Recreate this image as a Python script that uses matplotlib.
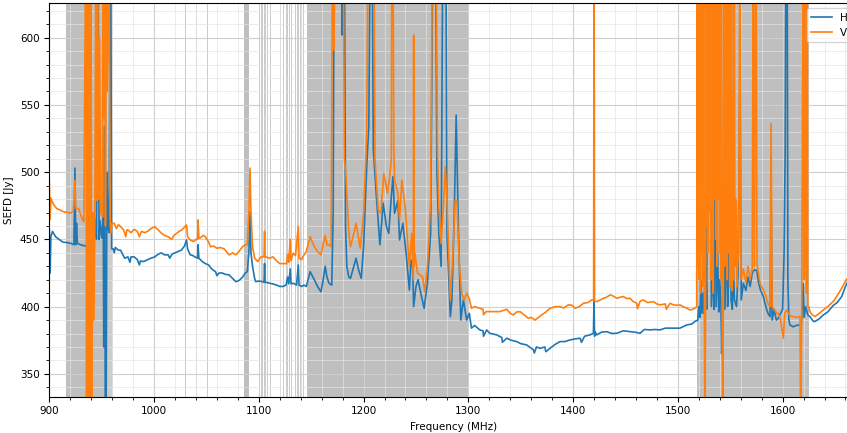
import matplotlib
matplotlib.use("Agg")
import matplotlib.pyplot as plt
from matplotlib.ticker import MultipleLocator

# H polarisation (freq MHz, SEFD Jy); 700 / 300 = off-scale spikes
h_freq = [900, 900.8, 901.5, 903, 906, 910, 913, 917, 921, 923.5, 924.5, 925.2, 926, 926.8, 930,
          934.5, 935.5, 940, 941.5, 942.5, 944, 945, 946.5, 947.5, 948.5, 950, 951.5, 952, 952.8,
          953.5, 954.2, 955, 956, 957, 958.5, 959.5, 961, 962, 963, 966, 968, 970, 972, 975, 977,
          978, 981, 984, 986, 987, 990, 994, 997, 1000.6, 1004, 1007, 1010, 1013.5, 1015, 1017,
          1020, 1023, 1026, 1029, 1031, 1032, 1034.5, 1037, 1039, 1041.5, 1042, 1042.8, 1046,
          1049, 1052, 1055, 1058.7, 1060, 1062, 1065, 1068, 1071.6, 1075, 1078, 1080, 1082,
          1084.5, 1087, 1089, 1090.5, 1091.6, 1092.5, 1094, 1096, 1097, 1100, 1104, 1105, 1105.5,
          1106, 1108, 1110, 1113, 1117, 1120, 1123, 1126, 1127.5, 1128.5, 1130, 1130.7, 1133,
          1136, 1137.7, 1138.4, 1141, 1143, 1145.3, 1149, 1153, 1156, 1159.3, 1161, 1163.4, 1165,
          1167, 1169.6, 1171, 1172, 1178.5, 1179.5, 1180.5, 1181.5, 1182.8, 1184, 1185.9, 1187.5,
          1190, 1192.8, 1195, 1197.8, 1200, 1203, 1205, 1206.5, 1208, 1209.3, 1212.5, 1215.6,
          1218.7, 1221.8, 1224, 1226.5, 1228, 1229.6, 1232.8, 1234.3, 1237.5, 1240.6, 1243.7,
          1245.3, 1246.8, 1247.8, 1250, 1252, 1254.6, 1257.8, 1260.9, 1264, 1266.5, 1268.5, 1270,
          1271.8, 1274, 1275.8, 1278.5, 1279.6, 1282.8, 1284.3, 1286.5, 1288.4, 1290.6, 1292.8,
          1295.3, 1298.4, 1300.9, 1303, 1306, 1310.9, 1314, 1314.5, 1317.6, 1320.3, 1327, 1332,
          1332.5, 1336.7, 1341, 1346.2, 1350, 1355.7, 1362, 1363, 1365, 1368.5, 1373, 1374,
          1378, 1383, 1387.6, 1392, 1397, 1402, 1406.7, 1408, 1411, 1416.2, 1419.4, 1420, 1420.5,
          1421.2, 1422.6, 1427, 1432, 1437, 1441.7, 1448, 1454.4, 1459, 1464, 1468, 1473.5,
          1478, 1483, 1488, 1492.6, 1495.7, 1502, 1508.5, 1513, 1516.4, 1519, 1520, 1521, 1522,
          1523, 1524, 1525, 1526.5, 1527.5, 1529, 1530, 1531, 1532, 1533.5, 1534.5, 1535.5,
          1536.5, 1538, 1539, 1540, 1541, 1541.8, 1542.5, 1544, 1545, 1546.5, 1547.5, 1548.5,
          1549.8, 1550.8, 1552, 1553, 1554, 1556, 1557.5, 1559.4, 1560.5, 1562.5, 1565, 1567,
          1569, 1571, 1573, 1575.3, 1577, 1579, 1581.6, 1584, 1586, 1588, 1589, 1590, 1592, 1594,
          1596, 1598, 1600, 1601.4, 1602.5, 1603.3, 1604.3, 1605, 1606, 1607, 1610, 1613, 1616.6,
          1618, 1619.8, 1620.5, 1622, 1624, 1626, 1629.4, 1631, 1635, 1639, 1643, 1648.5, 1652,
          1656.4, 1660, 1663, 1670]
h_sefd = [457, 425, 452, 456, 452, 449.6, 448, 447.6, 447, 446, 503, 446, 462, 447, 446,
          445, 446, 446, 465, 452, 465, 450, 700, 450, 464, 451, 466, 370, 534,
          300, 300, 500, 460, 455, 700, 443, 443, 440, 444, 442, 442, 439, 436, 437, 433,
          437, 437, 435, 431, 434, 433.5, 435, 436, 437, 439, 440, 438.5, 438.5, 436, 439,
          440, 441, 442, 445, 449.6, 443, 438.5, 438, 437, 436, 446, 436, 433.5,
          432, 431, 428, 426, 423, 425, 425, 424, 423.6, 421, 418.6, 419, 420,
          422, 425, 426, 440, 470.6, 440, 430, 421, 418.6, 419, 418.6, 418, 432,
          418, 418, 417.4, 417, 416, 415, 415, 416, 422, 417, 428, 417, 417.4,
          416, 431, 416, 415, 416, 415, 426, 420, 415, 411, 418, 430, 422,
          417.4, 416, 470, 700, 700, 602, 700, 700, 460, 430, 422, 421,
          428, 436, 428, 421, 444.6, 504, 534, 700, 700, 516.5, 479, 446,
          477, 459.5, 454.5, 482, 496.6, 469.4, 479, 449.6, 462, 439.7, 412.4,
          434.7, 429.8, 400, 414.9, 420, 410, 398.8, 417.4, 454.5, 700, 700, 500,
          454.5, 430, 700, 700, 454.5, 392.6, 405, 467, 542.5, 454.5, 390,
          405, 390, 395, 384, 386, 382.7, 382, 378, 382.7, 380.2, 379, 377,
          373.5, 376.5, 375, 374, 372.5, 371.5, 368, 365.5, 370, 369, 370, 366.5,
          369, 372, 374, 374, 375.2, 376, 376.5, 373.5, 378, 379, 380.2, 405, 378,
          381, 379, 381, 381.4, 380, 380.2, 382, 381.4, 381, 380.2, 383, 382.7,
          383, 382.7, 384, 384, 384, 384, 386.4, 387, 389, 390, 400, 392, 420,
          395, 410, 395, 445, 398, 700, 520, 700, 400, 430, 398, 529,
          400, 440, 396, 420, 405, 365, 400, 430, 398, 460, 400, 425,
          700, 405, 398, 430, 405, 400, 425, 583, 405, 417.4, 412, 422,
          415, 425, 427.3, 427, 418, 412, 407.5, 400, 395, 392.6, 484, 390, 398, 390,
          391.4, 395, 398, 440, 520, 700, 700, 420, 390, 386.4, 385, 386, 386.4,
          388, 417, 392, 400, 394, 392.6, 389, 389, 391, 393.9, 396, 401, 403,
          407.5, 415, 420, 432]

# V polarisation
v_freq = [900, 900.8, 901.5, 904, 907, 910, 913.5, 917, 920, 923, 924.5, 925.3, 928, 931, 933,
          935, 935.6, 936.2, 936.8, 937.4, 938, 938.6, 939.2, 939.8, 940.5, 941.5, 942.6, 943.5,
          944.5, 945.3, 946, 947, 948, 949, 950.6, 951.5, 952.2, 953, 953.6, 954.5, 955.3, 956,
          957, 958, 958.7, 960, 962, 964, 966, 968, 971, 973, 974, 975, 978, 981, 984, 986, 988,
          991, 994, 997, 1000.6, 1004, 1007, 1010, 1013.5, 1016.8, 1019, 1021.6, 1024, 1026.5,
          1029, 1031, 1032, 1034.5, 1037.7, 1040, 1041.5, 1042, 1042.8, 1044, 1047, 1049, 1052,
          1054, 1057, 1060, 1063, 1066.8, 1069, 1071.6, 1075, 1078, 1081, 1084.5, 1087, 1089,
          1090.5, 1091.6, 1092.5, 1094, 1096, 1099, 1102, 1105, 1105.5, 1106, 1107, 1110, 1113.5,
          1117, 1120, 1123.4, 1126.5, 1127.5, 1128.5, 1130, 1130.7, 1132.8, 1135, 1137.7, 1138.4,
          1141, 1142, 1145.3, 1149, 1153, 1156, 1159.3, 1161, 1163.4, 1165, 1167, 1169, 1170.5,
          1171.8, 1172.8, 1180.5, 1181.6, 1183, 1184.3, 1186, 1187.5, 1190, 1192.8, 1195, 1196.8,
          1200, 1203, 1204.5, 1209.8, 1210.9, 1214, 1216.5, 1219.3, 1222.8, 1225, 1226.5, 1227,
          1228, 1228.8, 1229.6, 1232.8, 1234.3, 1236.5, 1239.7, 1243.7, 1245.9, 1247.5, 1247.8,
          1248.3, 1249, 1251.5, 1256.2, 1258.4, 1260.9, 1264, 1266, 1269, 1270.5, 1271.8, 1274,
          1276.5, 1278, 1279.6, 1282.8, 1285.3, 1287.5, 1289, 1291.5, 1293.7, 1295.9, 1298.4,
          1300.9, 1303, 1306, 1310.9, 1314, 1314.5, 1317, 1320.7, 1325, 1330, 1336.7, 1340, 1343,
          1346, 1349.4, 1353, 1357.3, 1360, 1363.7, 1367, 1370, 1374, 1378, 1383, 1387.6, 1391,
          1395.5, 1399, 1402, 1406, 1409.8, 1414, 1417.8, 1419.6, 1420, 1420.5, 1422.6, 1426,
          1429, 1432, 1435.3, 1438, 1441.7, 1445, 1448, 1451, 1454.4, 1457, 1460.8, 1461.5, 1464,
          1467, 1471, 1476.7, 1480, 1483, 1488, 1489, 1492.6, 1495.7, 1500, 1502, 1505, 1508,
          1511.6, 1514, 1516.4, 1518, 1518.5, 1519.2, 1519.8, 1520.5, 1521, 1521.6, 1522.2,
          1522.8, 1523.4, 1524, 1524.6, 1525.2, 1525.9, 1526.6, 1527.2, 1527.8, 1528.4, 1529,
          1529.6, 1530.2, 1530.8, 1531.4, 1532, 1532.6, 1533.2, 1533.8, 1534.4, 1535, 1535.6,
          1536.2, 1536.8, 1537.4, 1538, 1538.6, 1539.2, 1539.8, 1540.4, 1541, 1541.6, 1542.2,
          1542.8, 1543.5, 1544.1, 1544.7, 1545.3, 1545.9, 1546.5, 1547.1, 1547.7, 1548.3,
          1548.9, 1549.5, 1550.1, 1550.7, 1551.3, 1551.9, 1552.5, 1553.1, 1553.8, 1554.5,
          1555.5, 1556.3, 1557, 1558, 1559.3, 1560.3, 1562.5, 1565, 1567, 1569, 1571, 1572,
          1573, 1574.5, 1575.5, 1578.5, 1581.6, 1584, 1586, 1588, 1589, 1590, 1592, 1594.4, 1596,
          1598, 1600.7, 1602, 1604, 1607, 1610, 1613, 1616.6, 1617.2, 1618.2, 1619.8, 1620.4,
          1621, 1621.6, 1622.2, 1622.8, 1623.4, 1624, 1625, 1626, 1628, 1631, 1635, 1639, 1643,
          1648.5, 1652, 1656.4, 1660, 1663, 1670]
v_sefd = [493, 465, 480.6, 476, 473, 472, 470.6, 470, 469.4, 471, 494, 473, 473, 466, 463,
          700, 300, 700, 300, 700, 300, 700, 300, 700, 300, 470, 390, 470,
          700, 479, 700, 480, 600, 470, 467, 700, 540, 700, 460, 700, 560, 596,
          700, 470, 454.6, 462, 462, 458, 461, 459.5, 457, 452, 457, 457, 455, 457.5, 456, 452, 456,
          455, 456, 458, 459.5, 457, 454.6, 453, 452, 450, 453, 454.6, 456, 457,
          459, 460.7, 452, 449.6, 448.4, 450, 450, 464.5, 451, 451, 453, 452, 448,
          444.6, 445, 443.4, 444, 443, 441, 438.5, 440, 438.5, 441, 444.6, 446, 446,
          470, 503, 470, 444.6, 436, 433.5, 437, 437, 456, 437, 437, 436, 437,
          434, 432, 432, 432, 439, 433, 450, 434, 439.7, 438, 459.5, 436,
          435, 437, 441, 452, 444.6, 441, 438.5, 445, 453, 446, 446, 444.6, 700,
          590.8, 700, 700, 510, 500, 479, 455, 444.6, 452, 462, 452, 443.4,
          469.4, 529, 700, 700, 509, 472, 469.4, 499, 484.3, 496.7, 509, 700,
          700, 520, 494, 484.3, 464.4, 494, 474.4, 429.8, 454.5, 420, 602,
          430, 439.7, 424.8, 422.3, 411, 429.8, 479, 700, 700, 520, 474.4, 447,
          479, 504, 479, 405, 439.7, 479, 479, 429.8, 410, 405, 410,
          406, 398.8, 400, 398.8, 398, 394, 396.3, 396.3, 396.3, 396.3, 398, 395, 393.8,
          396, 396.3, 394, 391.3, 392, 390, 392, 393.8, 396, 398.8, 400, 400, 399,
          401.3, 401, 398.8, 400, 402.5, 403, 405, 405, 700, 404, 403.7, 405,
          406.2, 407, 408.7, 408, 406.2, 407, 407.5, 406, 406.2, 404, 402.5, 398.5, 404,
          405, 403, 403.7, 402, 401.3, 402, 398, 402.5, 401.3, 401, 401.3, 400, 399,
          397.5, 398, 398.8, 400, 700, 430, 700, 420, 700, 410, 700,
          440, 700, 415, 700, 420, 300, 430, 700, 460, 700, 440,
          700, 470, 700, 420, 700, 450, 700, 410, 700, 480, 700,
          450, 700, 430, 700, 480, 700, 440, 700, 420, 700, 410,
          300, 420, 700, 430, 700, 500, 700, 420, 700, 440,
          700, 415, 700, 480, 700, 412, 560, 420, 700, 430,
          480, 415, 430, 440, 700, 420, 428, 418, 430, 420, 428, 700,
          430, 700, 432, 417, 412.5, 408, 402, 400, 536, 400, 398, 395, 395,
          390, 376.5, 395, 397.5, 393, 392.6, 392, 392.6, 300, 395, 700, 420,
          700, 430, 700, 410, 700, 400, 400, 396.4, 394, 392.6, 395, 397.6, 400,
          404, 408, 413.7, 419, 422, 434]

# flagged (RFI) frequency ranges
flag_lo = [915.5, 1086, 1146, 1419.5, 1518.5]
flag_hi = [955.5, 1091, 1300, 1421, 1625.5]
thin_lo = [955.5, 1029.5, 1040, 1050.6, 1099.8, 1102.4, 1105.4, 1107.6, 1110.8, 1119.8, 1123,
           1126.2, 1128.6, 1130.8, 1134.2, 1136.6, 1139.6, 1142.2]
thin_hi = [961, 1030.8, 1041.3, 1051.9, 1101.1, 1103.7, 1106.7, 1108.9, 1112.1, 1121.1, 1124.3,
           1127.5, 1129.9, 1132.1, 1135.5, 1137.9, 1140.9, 1143.5]

plt.rcParams['font.size'] = 7.5

fig = plt.figure(figsize=(8.47, 4.33), dpi=100)
ax = fig.add_axes([0.0582, 0.0838, 0.9536, 0.9086])

for lo, hi in zip(flag_lo, flag_hi):
    ax.axvspan(lo, hi, color='grey', alpha=0.5, lw=0)
for lo, hi in zip(thin_lo, thin_hi):
    ax.axvspan(lo, hi, color='grey', alpha=0.4, lw=0)

ax.plot(h_freq, h_sefd, color='#1f77b4', lw=1.2, label='H')
ax.plot(v_freq, v_sefd, color='#ff7f0e', lw=1.2, label='V')

ax.set_xlim(900, 1671)
ax.set_ylim(333, 625.6)
ax.xaxis.set_major_locator(MultipleLocator(100))
ax.xaxis.set_minor_locator(MultipleLocator(20))
ax.yaxis.set_major_locator(MultipleLocator(50))
ax.yaxis.set_minor_locator(MultipleLocator(10))
ax.grid(which='major', color='#cfcfcf', lw=0.8)
ax.grid(which='minor', color='#e4e4e4', lw=0.5)

ax.set_xlabel('Frequency (MHz)')
ax.set_ylabel('SEFD [Jy]')
ax.legend(loc='upper right')

fig.savefig('out.png', dpi=100)
